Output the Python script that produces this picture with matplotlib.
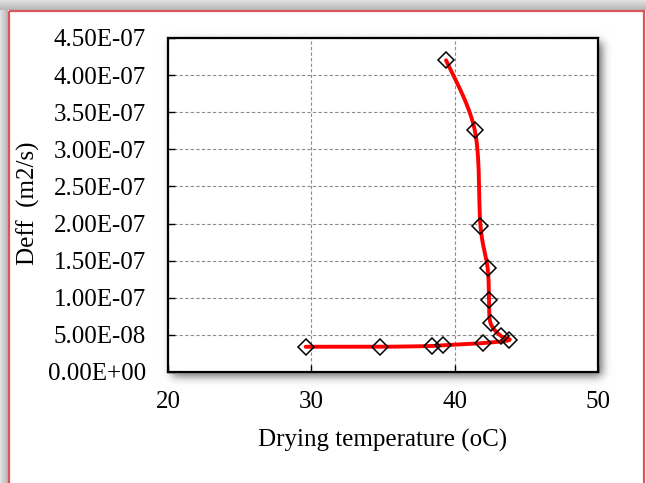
import numpy as np
import matplotlib
matplotlib.use("Agg")
import matplotlib.pyplot as plt
from matplotlib.patches import Rectangle
from matplotlib.ticker import FuncFormatter, MultipleLocator

# ---- data ----
temperature = [29.6, 34.8, 38.4, 39.2, 42.0, 43.8, 43.2, 42.5, 42.4, 42.3, 41.8, 41.4, 39.4]
deff = [0.34e-7, 0.34e-7, 0.35e-7, 0.36e-7, 0.39e-7, 0.43e-7, 0.49e-7,
        0.66e-7, 0.97e-7, 1.40e-7, 1.97e-7, 3.26e-7, 4.20e-7]
x_ticks = [20, 30, 40, 50]
y_max = 4.5e-7
y_step = 0.5e-7
x_label = "Drying temperature (oC)"
y_label = "Deff  (m2/s)"

W, H = 646, 483
FONT = "Liberation Serif"
plt.rcParams["font.family"] = [FONT, "DejaVu Serif"]

fig = plt.figure(figsize=(W / 100, H / 100), dpi=100)

# ---- background with outer shadow, chart-area border and plot-area shadow ----
img = np.ones((H, W, 3))
top = np.linspace(0.88, 0.72, 10)
for i, v in enumerate(top):
    img[i, :, :] = v
left = np.linspace(0.88, 0.72, 8)
for j, v in enumerate(left):
    img[10:, j, :] = np.minimum(img[10:, j, :], v)

ax_l, ax_r, ax_t, ax_b = 168, 598, 38, 372
mask = np.zeros((H, W))
off = 4
mask[ax_t + off:ax_b + off, ax_l + off:ax_r + off] = 1.0
sig = 4.5
k = np.arange(-14, 15)
g = np.exp(-k ** 2 / (2 * sig ** 2))
g /= g.sum()
mask = np.apply_along_axis(lambda r: np.convolve(r, g, mode="same"), 1, mask)
mask = np.apply_along_axis(lambda c: np.convolve(c, g, mode="same"), 0, mask)
shade = 1 - 0.6 * mask
region = np.zeros((H, W), bool)
region[10:, 8:] = True
for c in range(3):
    img[:, :, c] = np.where(region, img[:, :, c] * shade, img[:, :, c])

bg = fig.add_axes([0, 0, 1, 1], zorder=-5)
bg.imshow(img, extent=[0, W, H, 0], interpolation="bilinear", aspect="auto")
bg.add_patch(Rectangle((8.5, 10.5), 635, 490, fill=False, edgecolor="#d9575a", linewidth=1.6))
bg.set_xlim(0, W)
bg.set_ylim(H, 0)
bg.axis("off")

# ---- plot area ----
ax = fig.add_axes([ax_l / W, (H - ax_b) / H, (ax_r - ax_l) / W, (ax_b - ax_t) / H], zorder=1)
ax.set_facecolor("white")
ax.set_xlim(x_ticks[0], x_ticks[-1])
ax.set_ylim(0, y_max)
ax.set_xticks(x_ticks)
ax.yaxis.set_major_locator(MultipleLocator(y_step))
ax.yaxis.set_major_formatter(FuncFormatter(lambda v, p: f"{v:.2E}"))
ax.grid(True, color="#8c8c8c", linestyle=(0, (3, 2)), linewidth=0.8)
ax.set_axisbelow(True)
for s in ax.spines.values():
    s.set_linewidth(1.6)
    s.set_color("black")
ax.tick_params(direction="in", length=5, width=1, labelsize=18, colors="black")
ax.tick_params(axis="y", pad=16)
ax.tick_params(axis="x", pad=14)

# smoothed line (Excel-style Catmull-Rom Bezier) computed in display-proportional space
xs = np.array(temperature)
ys = np.array(deff)
sx = (ax_r - ax_l) / (x_ticks[-1] - x_ticks[0])
sy = (ax_b - ax_t) / y_max
P = np.column_stack([(xs - x_ticks[0]) * sx, ys * sy])
n = len(P)
curve = []
t = np.linspace(0, 1, 40)[:, None]
for i in range(n - 1):
    p0 = P[i]
    p3 = P[i + 1]
    pm = P[i - 1] if i > 0 else P[i]
    pp = P[i + 2] if i + 2 < n else P[i + 1]
    b1 = p0 + (p3 - pm) / 6
    b2 = p3 - (pp - p0) / 6
    seg = (1 - t) ** 3 * p0 + 3 * (1 - t) ** 2 * t * b1 + 3 * (1 - t) * t ** 2 * b2 + t ** 3 * p3
    curve.append(seg)
curve = np.vstack(curve)
cx = curve[:, 0] / sx + x_ticks[0]
cy = curve[:, 1] / sy

ax.plot(cx, cy, color="#ff0000", linewidth=2.8, solid_capstyle="round", zorder=3)
ax.plot(xs, ys, linestyle="none", marker="D", markersize=8.5, markerfacecolor="none",
        markeredgecolor="black", markeredgewidth=1.1, zorder=4)

fig.text(383 / W, 1 - 440 / H, x_label, ha="center", va="center", fontsize=18)
fig.text(28 / W, 1 - 203 / H, y_label, ha="center", va="center", rotation=90, fontsize=18)

fig.savefig("out.png", dpi=100)
